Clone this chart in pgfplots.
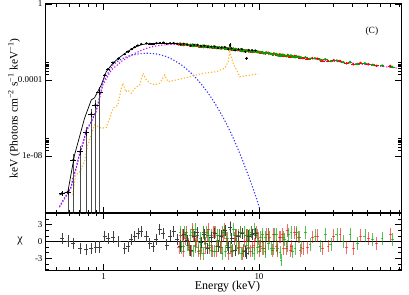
\documentclass[border=0pt]{standalone}
\usepackage{fontspec}
\setmainfont{Liberation Serif}
\usepackage{pgfplots}
\pgfplotsset{compat=1.18}
\definecolor{xred}{RGB}{255,0,0}
\definecolor{xgreen}{RGB}{0,165,0}
\definecolor{xblue}{RGB}{50,50,255}
\definecolor{xmag}{RGB}{225,0,235}
\definecolor{xorange}{RGB}{255,180,40}
\begin{document}
\begin{tikzpicture}
\useasboundingbox (0,0) rectangle (409bp,295bp);
% ---------------- top panel ----------------
\begin{axis}[scale only axis, width=355bp, height=209bp, at={(46bp,82bp)}, anchor=south west,
  xmode=log, xmin=0.426, xmax=82, ymode=log, ymin=1e-11, ymax=1,
  axis line style={line width=1bp},
  major tick length=6bp, minor tick length=3.3bp, tick align=inside,
  tick style={black, line width=0.7bp},
  xtick={1,10}, xticklabels={},
  minor xtick={0.5,0.6,0.7,0.8,0.9,2,3,4,5,6,7,8,9,20,30,40,50,60,70,80},
  ytick={1e-8,1e-4,1}, yticklabels={1e-08,0.0001,1},
  minor ytick={2e-8,3e-8,4e-8,5e-8,6e-8,7e-8,8e-8,9e-8,2e-4,3e-4,4e-4,5e-4,6e-4,7e-4,8e-4,9e-4},
  tick label style={font=\fontsize{9}{10}\selectfont},
  ylabel={keV (Photons cm\textsuperscript{−2} s\textsuperscript{−1} keV\textsuperscript{−1})},
  ylabel style={at={(axis description cs:-0.0901,0.5)}, anchor=center, font=\fontsize{11.5}{13}\selectfont},
]
% blue component
\addplot[xblue, line width=1.1bp, dash pattern=on 1.2bp off 1.9bp] table {
0.52 2.2e-11
0.547 4.5e-11
0.574 8.5e-11
0.619 2.4e-10
0.634 6.5e-10
0.667 2.6e-9
0.70 1.3e-8
0.735 4.5e-8
0.773 2.2e-7
0.83 6.5e-7
0.897 2.5e-6
0.94 1.2e-5
0.99 7.0e-5
1.04 1.6e-4
1.148 6.2e-4
1.24 1.0e-3
1.332 1.38e-3
1.44 1.8e-3
1.545 2.09e-3
1.7 2.4e-3
1.886 2.57e-3
2.03 2.5e-3
2.19 2.34e-3
2.35 2.05e-3
2.54 1.7e-3
2.73 1.3e-3
2.94 9.1e-4
3.17 6.2e-4
3.42 3.8e-4
3.68 2.2e-4
3.96 1.2e-4
4.27 5.8e-5
4.61 2.6e-5
4.96 1.1e-5
5.33 4.3e-6
5.74 1.5e-6
6.19 4.8e-7
6.67 1.35e-7
7.18 3.4e-8
7.74 7.8e-9
8.33 1.6e-9
8.97 3.2e-10
9.66 5.5e-11
10.13 1.6e-11
};
% orange component
\addplot[xorange, line width=1.1bp, dash pattern=on 1.2bp off 1.9bp] table {
0.634 8.9e-11
0.66 1.0e-9
0.70 1.4e-9
0.753 5.0e-9
0.792 3.8e-8
0.833 1.3e-7
0.875 4.3e-7
0.919 3.5e-7
0.966 2.9e-7
1.04 3.1e-7
1.093 9.6e-7
1.148 3.2e-6
1.236 4.8e-6
1.30 3.6e-5
1.332 6.8e-5
1.387 2.4e-5
1.435 2.95e-5
1.509 2.0e-5
1.585 3.6e-5
1.707 5.5e-5
1.793 2.24e-4
1.886 1.0e-4
1.982 6.8e-5
2.134 5.5e-5
2.298 6.8e-5
2.475 1.82e-4
2.597 8.1e-5
2.94 1.0e-4
3.59 1.48e-4
4.37 2.24e-4
5.33 2.75e-4
6.03 4.2e-4
6.33 9.1e-4
6.49 3.1e-3
6.82 7.6e-4
7.35 2.24e-4
7.53 1.48e-4
8.76 1.82e-4
9.89 2.1e-4
};
% magenta component
\addplot[xmag, line width=1.1bp, dash pattern=on 1.2bp off 1.9bp] table {
0.52 2.0e-11
0.547 4.0e-11
0.574 7.6e-11
0.619 2.2e-10
0.634 5.8e-10
0.667 2.3e-9
0.70 1.15e-8
0.735 4.0e-8
0.773 1.95e-7
0.83 5.8e-7
0.897 2.2e-6
0.94 1.0e-5
0.99 5.5e-5
1.04 1.15e-4
1.1 2.6e-4
1.148 4.0e-4
1.208 5.5e-4
1.30 9.5e-4
1.40 1.38e-3
1.5 2.0e-3
1.625 2.75e-3
1.8 4.0e-3
1.98 5.25e-3
2.2 6.3e-3
2.4 6.9e-3
2.8 7.6e-3
3.5 7.0e-3
5 5.2e-3
7 3.95e-3
10 2.85e-3
15 1.88e-3
20 1.42e-3
30 9.8e-4
50 6.3e-4
79 4.2e-4
};
% red data
\addplot[xred, only marks, mark=*, mark size=1bp,
  error bars/.cd, x dir=both, x fixed relative=0.02, y dir=both, y fixed relative=0.04,
  error mark=none, error bar style={xred, line width=0.6bp}] table {
3.05 7.41e-3
3.12 8.05e-3
3.2 7.94e-3
3.27 6.92e-3
3.35 7.41e-3
3.42 7.66e-3
3.5 6.92e-3
3.57 6.59e-3
3.65 6.31e-3
3.72 7.33e-3
3.8 6.92e-3
3.87 6.32e-3
3.95 6.31e-3
4.02 6.59e-3
4.1 5.75e-3
4.18 5.57e-3
4.27 5.75e-3
4.36 6.35e-3
4.45 6.03e-3
4.54 5.50e-3
4.63 5.89e-3
4.72 6.14e-3
4.82 5.25e-3
4.92 5.31e-3
5.02 5.01e-3
5.12 5.65e-3
5.22 5.62e-3
5.32 4.79e-3
5.43 5.01e-3
5.54 5.20e-3
5.65 4.68e-3
5.76 4.61e-3
5.88 5.01e-3
6.0 5.13e-3
6.12 4.68e-3
6.24 4.42e-3
6.37 4.07e-3
6.5 4.89e-3
6.63 3.98e-3
6.76 3.92e-3
6.9 4.22e-3
7.04 4.24e-3
7.18 4.17e-3
7.32 3.72e-3
7.47 3.63e-3
7.62 4.00e-3
7.77 3.31e-3
7.92 3.34e-3
8.08 3.51e-3
8.24 3.63e-3
8.41 3.55e-3
8.58 3.20e-3
8.75 3.09e-3
8.92 3.48e-3
9.1 3.02e-3
9.28 3.06e-3
9.47 3.24e-3
9.66 3.25e-3
9.85 3.09e-3
10.05 2.74e-3
10.25 2.75e-3
10.47 2.93e-3
10.7 2.57e-3
10.95 2.48e-3
11.2 2.78e-3
11.45 2.71e-3
11.7 2.57e-3
};
\addplot[xred, only marks, mark=*, mark size=1bp,
  error bars/.cd, x dir=both, x fixed relative=0.035, y dir=both, y fixed relative=0.09,
  error mark=none, error bar style={xred, line width=0.6bp}] table {
12.25 2.14e-3
12.42 2.48e-3
12.85 2.14e-3
13.07 2.00e-3
13.5 2.24e-3
13.7 2.19e-3
14.2 2.14e-3
14.45 1.84e-3
15.0 1.78e-3
15.3 2.10e-3
15.9 1.66e-3
16.25 1.68e-3
16.9 1.86e-3
17.3 1.78e-3
18.0 1.66e-3
18.4 1.43e-3
19.2 1.41e-3
20.5 1.29e-3
22.0 1.41e-3
23.7 1.35e-3
25.6 1.02e-3
27.8 1.00e-3
30.3 1.10e-3
33.2 1.02e-3
36.6 7.59e-4
40.5 6.68e-4
45 7.94e-4
50.5 6.92e-4
57 5.6e-4
70 5.5e-4
};
% green data
\addplot[xgreen, only marks, mark=*, mark size=1bp,
  error bars/.cd, x dir=both, x fixed relative=0.02, y dir=both, y fixed relative=0.04,
  error mark=none, error bar style={xgreen, line width=0.6bp}] table {
3.1 8.32e-3
3.15 7.28e-3
3.27 7.41e-3
3.30 7.87e-3
3.42 7.48e-3
3.45 6.92e-3
3.58 6.76e-3
3.61 7.16e-3
3.73 7.14e-3
3.76 6.18e-3
3.88 6.46e-3
3.91 7.03e-3
4.04 6.61e-3
4.06 5.96e-3
4.2 5.96e-3
4.22 6.19e-3
4.37 6.31e-3
4.40 5.36e-3
4.55 5.75e-3
4.59 6.11e-3
4.74 5.89e-3
4.77 5.42e-3
4.93 5.30e-3
4.97 5.64e-3
5.13 5.62e-3
5.17 4.88e-3
5.34 5.13e-3
5.37 5.32e-3
5.55 5.20e-3
5.6 4.70e-3
5.78 4.57e-3
5.82 5.13e-3
6.01 5.01e-3
6.06 4.33e-3
6.26 4.62e-3
6.3 4.58e-3
6.51 4.79e-3
6.57 4.12e-3
6.78 4.10e-3
6.83 4.56e-3
7.05 4.24e-3
7.11 3.92e-3
7.34 3.89e-3
7.39 4.04e-3
7.63 3.98e-3
7.7 3.37e-3
7.94 3.47e-3
8.0 3.80e-3
8.26 3.63e-3
8.32 3.36e-3
8.6 3.34e-3
8.67 3.48e-3
8.95 3.47e-3
9.01 3.00e-3
9.3 2.99e-3
9.37 3.40e-3
9.7 3.16e-3
9.76 2.87e-3
10.1 2.92e-3
10.15 3.05e-3
10.5 2.99e-3
10.57 2.59e-3
10.95 2.54e-3
11.06 2.76e-3
11.45 2.70e-3
11.56 2.45e-3
11.95 2.41e-3
};
\addplot[xgreen, only marks, mark=*, mark size=1bp,
  error bars/.cd, x dir=both, x fixed relative=0.035, y dir=both, y fixed relative=0.09,
  error mark=none, error bar style={xgreen, line width=0.6bp}] table {
12.37 2.16e-3
12.55 2.45e-3
12.98 2.36e-3
13.2 2.02e-3
13.64 1.86e-3
13.85 2.17e-3
14.34 2.09e-3
14.6 2.00e-3
15.15 1.80e-3
15.45 2.00e-3
16.07 1.95e-3
16.4 1.67e-3
17.07 1.56e-3
17.45 1.81e-3
18.18 1.65e-3
18.6 1.55e-3
19.9 1.58e-3
21.3 1.31e-3
22.9 1.40e-3
24.7 1.19e-3
26.7 1.24e-3
29.0 9.84e-4
31.7 1.07e-3
34.8 8.75e-4
38.5 9.0e-4
43 6.98e-4
48 7.5e-4
54 6.34e-4
62 5.75e-4
72 4.90e-4
};
% black data: error bars reaching below the axis
\addplot[black!70, line width=0.5bp, unbounded coords=jump] coordinates {
(0.589,2.0e-10) (0.589,1e-12) (0.589,nan)
(0.64,1.2e-8) (0.64,1e-12) (0.64,nan)
(0.707,3.2e-8) (0.707,1e-12) (0.707,nan)
(0.773,3.2e-7) (0.773,1e-12) (0.773,nan)
(0.833,2.9e-6) (0.833,1e-12) (0.833,nan)
(0.888,9.0e-6) (0.888,1e-12) (0.888,nan)
(0.942,4.2e-5) (0.942,1e-12)
};
\addplot[black, only marks, mark=*, mark size=0.9bp,
  error bars/.cd, x dir=both, x fixed relative=0.045, y dir=both, y fixed relative=0.3,
  error mark=none, error bar style={black, line width=0.6bp}] table {
0.541 1.1e-10
0.589 1.23e-10
0.64 6.2e-9
0.707 1.7e-8
0.773 1.7e-7
0.833 1.55e-6
0.888 4.8e-6
0.942 2.24e-5
};
\addplot[black, only marks, mark=*, mark size=0.9bp,
  error bars/.cd, x dir=both, x fixed relative=0.025, y dir=both, y fixed relative=0.06,
  error mark=none, error bar style={black, line width=0.6bp}] table {
1.015 1.8e-4
1.066 3.7e-4
1.148 8.3e-4
1.25 1.35e-3
1.366 2.3e-3
1.435 3.1e-3
1.509 4.2e-3
1.585 5.4e-3
1.665 6.6e-3
1.75 7.8e-3
1.89 8.51e-3
1.98 8.04e-3
2.08 7.76e-3
2.19 8.71e-3
2.3 8.91e-3
2.42 9.23e-3
2.55 8.13e-3
2.68 8.61e-3
2.82 8.91e-3
2.97 8.13e-3
3.12 7.41e-3
3.28 8.04e-3
3.45 7.33e-3
3.63 6.46e-3
3.82 7.08e-3
4.02 7.08e-3
4.23 6.17e-3
4.45 6.38e-3
4.68 5.37e-3
4.92 5.75e-3
5.18 5.75e-3
5.45 4.79e-3
5.73 5.19e-3
6.03 5.37e-3
6.34 4.27e-3
6.67 4.62e-3
7.02 3.63e-3
7.38 4.17e-3
7.76 4.17e-3
8.17 3.05e-3
8.59 3.72e-3
9.04 3.63e-3
9.5 3.55e-3
};
\addplot[black, only marks, mark=*, mark size=0.9bp,
  error bars/.cd, x dir=both, x fixed relative=0.02, y dir=both, y fixed relative=0.22,
  error mark=none, error bar style={black, line width=0.6bp}] table {
6.52 6.92e-3
8.33 1.38e-3
};
% black model
\addplot[black, line width=0.7bp] table {
0.52 8.9e-11
0.589 1.32e-10
0.65 1.12e-8
0.754 9.6e-7
0.833 8.9e-6
0.875 1.17e-5
0.966 5.5e-5
1.04 2.75e-4
1.148 7.6e-4
1.24 1.35e-3
1.332 2.1e-3
1.44 3.3e-3
1.545 4.7e-3
1.65 6.0e-3
1.75 7.2e-3
1.9 8.1e-3
2.2 8.5e-3
2.6 8.3e-3
3.0 7.94e-3
3.5 7.24e-3
4.0 6.46e-3
4.5 5.89e-3
5.0 5.37e-3
5.5 5.01e-3
6.0 4.68e-3
6.3 4.57e-3
6.42 5.0e-3
6.49 5.75e-3
6.58 4.9e-3
6.7 4.37e-3
7.0 4.07e-3
8.0 3.55e-3
9.0 3.24e-3
10.0 2.95e-3
};
\node[font=\fontsize{9.5}{11}\selectfont] at (rel axis cs:0.918,0.871) {(C)};
\end{axis}
% ---------------- residual panel ----------------
\begin{axis}[scale only axis, width=355bp, height=57bp, at={(46bp,25bp)}, anchor=south west,
  xmode=log, xmin=0.426, xmax=82, ymin=-5.1, ymax=5.1,
  axis line style={line width=1bp},
  major tick length=6bp, minor tick length=3.3bp, tick align=inside,
  tick style={black, line width=0.7bp},
  xtick={1,10}, xticklabels={1,10},
  minor xtick={0.5,0.6,0.7,0.8,0.9,2,3,4,5,6,7,8,9,20,30,40,50,60,70,80},
  ytick={-3,0,3}, yticklabels={-3,0,3}, minor ytick={-5,-4,-2,-1,1,2,4,5},
  tick label style={font=\fontsize{9}{10}\selectfont},
  xlabel={Energy (keV)},
  xlabel style={at={(axis description cs:0.5,0)}, yshift=-17bp, xshift=4bp, anchor=center, font=\fontsize{12}{14}\selectfont},
  ylabel={χ},
  ylabel style={at={(axis description cs:-0.0732,0.5)}, anchor=center, rotate=-90, font=\fontsize{12}{14}\selectfont},
]
\addplot[black, line width=0.8bp] coordinates {(0.426,0) (82,0)};
% red residuals
\addplot[draw=none, mark=none,
  error bars/.cd, x dir=both, x fixed relative=0.02, y dir=both, y fixed=1.15,
  error mark=none, error bar style={draw=xred, opacity=0.6, line width=0.7bp}] table {
3.05 -1.1
3.12 1.1
3.2 1.1
3.27 -1.7
3.35 0.6
3.42 1.7
3.5 -0.6
3.57 -1.1
3.65 -1.7
3.72 2.2
3.8 1.1
3.87 -0.6
3.95 0.0
4.02 1.1
4.1 -1.7
4.18 -2.2
4.27 -1.1
4.36 1.7
4.45 0.6
4.54 -1.1
4.63 1.1
4.72 2.2
4.82 -1.1
4.92 -0.6
5.02 -1.7
5.12 1.7
5.22 1.7
5.32 -1.7
5.43 0.1
5.54 1.1
5.65 -1.1
5.76 -1.1
5.88 1.1
6.0 2.2
6.12 0.6
6.24 -0.6
6.37 -2.2
6.5 2.6
6.63 -1.7
6.76 -1.7
6.9 0.6
7.04 1.1
7.18 1.1
7.32 -1.1
7.47 -1.1
7.62 1.7
7.77 -2.2
7.92 -1.7
8.08 0.1
8.24 1.1
8.41 1.1
8.58 -1.1
8.75 -1.7
8.92 1.7
9.1 -1.1
9.28 -0.6
9.47 1.1
9.66 1.7
9.85 0.6
10.05 -1.7
10.25 -0.8
10.47 0.8
10.7 -1.2
10.95 -1.2
11.2 1.2
11.45 1.2
11.7 0.8
12.25 -1.6
12.42 1.2
12.85 -0.8
13.07 -1.6
13.5 0.8
13.7 0.8
14.2 1.2
14.45 -1.2
15.0 -1.2
15.3 2.0
15.9 -1.6
16.25 -0.8
16.9 1.6
17.3 1.2
18.0 0.8
18.4 -1.6
19.2 -1.2
20.5 -1.0
22.0 0.8
23.7 1.0
25.6 -1.2
27.8 -0.8
30.3 1.0
33.2 1.3
36.6 -1.0
40.5 -1.2
45 1.0
50.5 0.6
57 -0.3
70 1.2
};
% green residuals
\addplot[draw=none, mark=none,
  error bars/.cd, x dir=both, x fixed relative=0.02, y dir=both, y fixed=1.15,
  error mark=none, error bar style={draw=xgreen, opacity=0.65, line width=0.7bp}] table {
3.1 1.7
3.15 -1.1
3.27 -0.8
3.30 1.7
3.42 1.1
3.45 -0.6
3.58 -1.4
3.61 1.1
3.73 1.7
3.76 -1.7
3.88 -0.9
3.91 2.2
4.04 1.1
4.06 -1.1
4.2 -1.6
4.22 0.6
4.37 1.7
4.40 -2.2
4.55 -0.4
4.59 1.7
4.74 1.1
4.77 -0.6
4.93 -1.6
4.97 1.1
5.13 1.7
5.17 -1.7
5.34 -0.8
5.37 1.1
5.55 1.1
5.6 -1.1
5.78 -2.1
5.82 1.7
6.01 1.7
6.06 -1.7
6.26 -0.6
6.3 0.6
6.51 2.2
6.57 -1.1
6.78 -1.6
6.83 2.2
7.05 1.1
7.11 -0.6
7.34 -1.3
7.39 1.1
7.63 1.7
7.7 -2.2
7.94 -1.6
8.0 1.7
8.26 1.1
8.32 -0.6
8.6 -1.2
8.67 1.1
8.95 1.7
9.01 -1.7
9.3 -2.1
9.37 2.2
9.7 1.1
9.76 -1.1
10.1 -0.9
10.15 0.8
10.5 1.2
10.57 -1.2
10.95 -1.8
11.06 0.8
11.45 1.2
11.56 -0.4
11.95 -1.3
12.37 -1.2
12.55 1.2
12.98 1.2
13.2 -1.2
13.64 -2.0
13.85 -3.3
14.34 0.8
14.6 0.4
15.15 -0.8
15.45 1.2
16.07 1.6
16.4 -1.8
17.07 -1.2
17.45 1.6
18.18 0.8
18.6 -1.0
19.9 1.6
21.3 -0.5
22.9 1.0
24.7 -0.8
26.7 1.25
29.0 -0.5
31.7 1.25
34.8 0.0
38.5 1.25
43 -0.4
48 1.0
54 0.4
62 0.6
72 0.4
};
% black residuals
\addplot[draw=none, mark=none,
  error bars/.cd, x dir=both, x fixed relative=0.03, y dir=both, y fixed=1,
  error mark=none, error bar style={draw=black!75, line width=0.7bp}] table {
0.541 0.6
0.589 0.1
0.64 -0.3
0.707 -1.2
0.773 -1.4
0.833 -1.2
0.888 -1.0
0.942 -1.0
1.015 0.9
1.066 0.6
1.148 0.8
1.25 0.0
1.366 -1.2
1.435 -0.9
1.509 0.3
1.585 0.9
1.665 1.5
1.75 1.8
1.89 0.9
1.98 -0.3
2.08 -0.9
2.19 0.3
2.3 2.2
2.42 1.5
2.55 -0.6
2.68 1.0
2.82 1.8
2.97 0.4
3.12 -0.8
3.28 1.3
3.45 0.2
3.63 -1.6
3.82 0.9
4.02 1.6
4.23 -0.2
4.45 1.2
4.68 -1.2
4.92 0.7
5.18 1.5
5.45 -0.8
5.73 1.0
6.03 2.0
6.34 -1.0
6.52 2.5
6.67 0.6
7.02 -1.6
7.38 0.9
7.76 1.5
8.17 -1.8
8.33 -2.2
8.59 1.0
9.04 1.2
9.5 1.4
};
\end{axis}
\end{tikzpicture}
\end{document}
